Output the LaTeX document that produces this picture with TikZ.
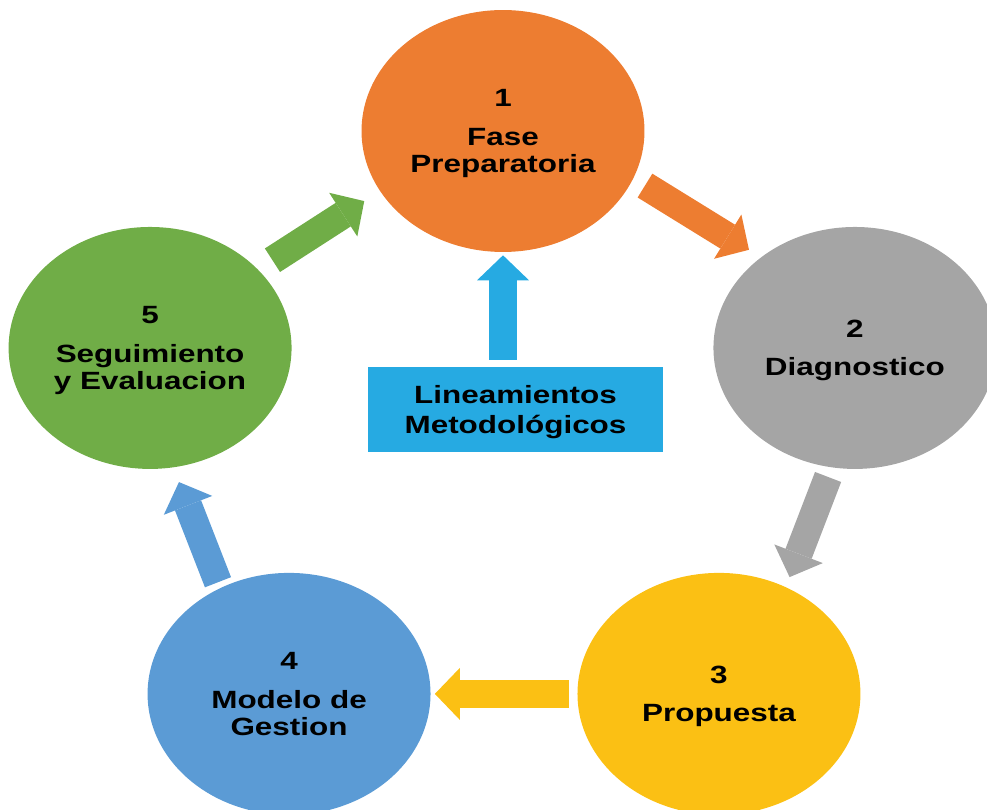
\documentclass[tikz,border=0pt]{standalone}
\usepackage{fontspec}
\setmainfont{Liberation Sans}[FakeStretch=1.26]
\usepackage{tikz}
\usetikzlibrary{arrows.meta,positioning,shapes.geometric}

\definecolor{naranja}{RGB}{237,125,49}
\definecolor{gris}{RGB}{165,165,165}
\definecolor{amarillo}{RGB}{251,192,20}
\definecolor{azul}{RGB}{91,155,213}
\definecolor{verde}{RGB}{112,173,71}
\definecolor{celeste}{RGB}{38,170,226}

\begin{document}
\begin{tikzpicture}[x=0.02cm, y=-0.02cm, on grid,
    etapa/.style={ellipse, minimum width=5.66cm, minimum height=4.84cm, inner sep=0pt, text depth=0pt,
                  align=center, font=\fontsize{14.2pt}{15.4pt}\selectfont\bfseries},
    caja/.style={fill=celeste, minimum width=5.9cm, minimum height=1.7cm, inner sep=0pt, text depth=0pt,
                 align=center, font=\fontsize{14.2pt}{15.4pt}\selectfont\bfseries},
    flecha/.style={line width=0.56cm, -{Triangle[length=0.5cm, width=1.04cm, line width=0pt]}}]
  \path[use as bounding box, clip] (0,0) rectangle (987,810);

  \node[etapa, fill=naranja]  (fase)  at (503,131)                       {1\\[0.23cm]Fase\\Preparatoria};
  \node[etapa, fill=gris]     (diag)  [below right=4.34cm and 7.04cm of fase] {2\\[0.23cm]Diagnostico};
  \node[etapa, fill=verde]    (segui) [below left=4.34cm and 7.06cm of fase]  {5\\[0.23cm]Seguimiento\\y Evaluacion};
  \node[etapa, fill=amarillo] (prop)  [below left=6.92cm and 2.72cm of diag]  {3\\[0.23cm]Propuesta};
  \node[etapa, fill=azul]     (gest)  [left=8.6cm of prop]                    {4\\[0.23cm]Modelo de\\Gestion};
  \node[caja]                 (lin)   [below=5.57cm of fase, xshift=0.25cm]   {Lineamientos\\[0.06cm]Metodológicos};

  \path (fase.-20)     edge [flecha, naranja,  shorten <=0.27cm, shorten >=0.28cm] (diag.136)
        (diag.-101)    edge [flecha, gris,     shorten <=0.2cm,  shorten >=0.21cm] (prop.58.5)
        (prop.west)    edge [flecha, amarillo, shorten <=0.16cm, shorten >=0.08cm] (gest.east)
        (gest.123)     edge [flecha, azul,     shorten <=0.12cm, shorten >=0.31cm] (segui.-79.4)
        (segui.36.6)   edge [flecha, verde,    shorten <=0.34cm, shorten >=0.37cm] (fase.-154.4)
        (lin.north -| fase.south) edge [flecha, celeste, shorten <=0.14cm, shorten >=0.06cm] (fase.south)
        ;
\end{tikzpicture}
\end{document}
